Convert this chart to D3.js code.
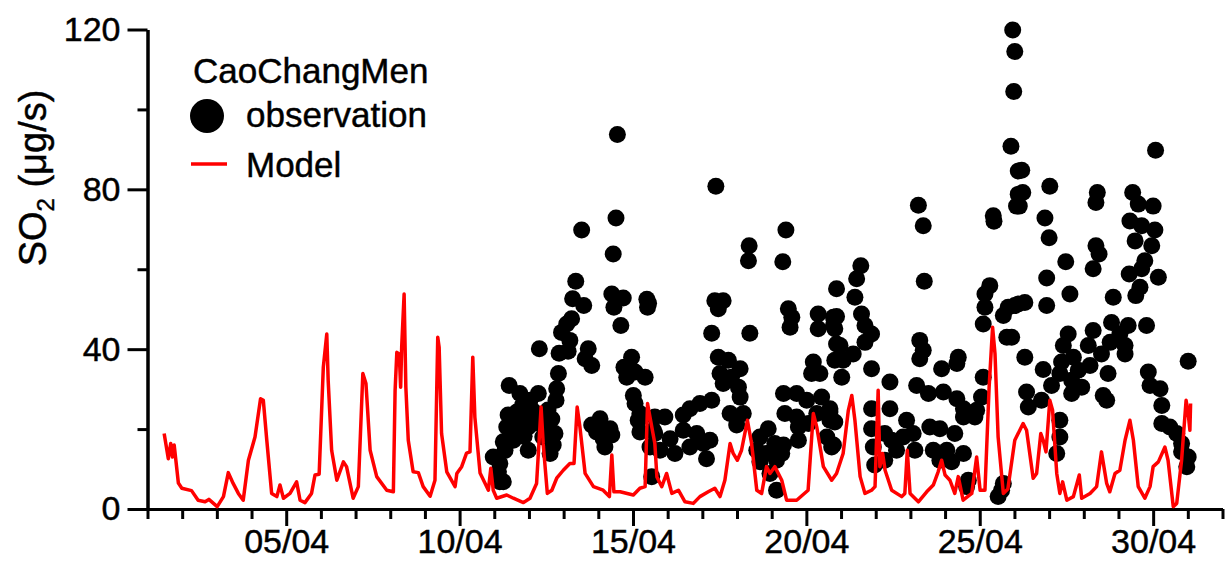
<!DOCTYPE html>
<html>
<head>
<meta charset="utf-8">
<script src="https://cdn.jsdelivr.net/npm/d3@7"></script>
<style>
  body { margin: 0; background: #fff; }
  text { font-family: "Liberation Sans", Arial, sans-serif; fill: #000; stroke: #000; stroke-width: 0.45px; }
</style>
</head>
<body>
<svg id="chart"></svg>
<script>
// model run, [day of April, SO2]
const model = [
  [1.48,18.9],[1.60,12.6],[1.67,16.4],[1.72,13],[1.77,16],[1.89,6.5],[1.99,5.2],[2.27,4.6],[2.46,2.2],[2.66,1.8],
  [2.77,2.4],[3.01,0.6],[3.19,3.1],[3.33,9.1],[3.47,6.4],[3.62,3.9],[3.76,2.2],[3.91,12.2],[4.10,18],[4.26,27.6],
  [4.34,27.2],[4.44,17.2],[4.58,3.9],[4.73,3.1],[4.82,6],[4.92,2.7],[5.11,3.9],[5.30,6.8],[5.40,2.2],[5.54,1.6],
  [5.73,3.9],[5.83,8.5],[5.95,8.7],[6.07,35.5],[6.17,43.8],[6.21,32.2],[6.31,14.7],[6.46,7.2],[6.65,11.8],[6.74,10.6],
  [6.93,2.7],[7.08,5.6],[7.21,33.9],[7.30,31.4],[7.42,14.7],[7.61,8.1],[7.90,4.7],[8.09,4.3],[8.14,29.7],[8.19,39.2],
  [8.26,38.8],[8.30,30.5],[8.33,40.5],[8.40,53.8],[8.45,30.5],[8.52,17.2],[8.66,9.3],[8.81,9.1],[8.95,5.6],[9.15,3.2],
  [9.29,7.2],[9.37,43],[9.41,40.5],[9.48,18.9],[9.63,9.3],[9.87,5.6],[9.92,8.9],[10.06,10.6],[10.20,14],[10.30,14.3],
  [10.38,38],[10.44,23],[10.59,9],[10.73,6.5],[10.83,4.7],[10.90,10.2],[10.97,4.7],[11.07,2.7],[11.36,3.5],[11.55,2.7],
  [11.84,1.6],[12.03,2.7],[12.22,6.4],[12.35,25.5],[12.41,16.4],[12.53,3.9],[12.66,4.7],[12.80,7.7],[12.99,9.7],[13.18,11.4],
  [13.30,11.4],[13.39,25.5],[13.47,20.5],[13.62,8.9],[13.86,5.6],[14.14,4.7],[14.32,3.1],[14.39,13.5],[14.45,4.3],[14.63,4.3],
  [15.01,3.5],[15.20,5.2],[15.35,5.6],[15.42,26.4],[15.49,23],[15.63,16.4],[15.69,8],[15.83,5.6],[15.97,8.9],[16.12,3.9],
  [16.31,4.7],[16.50,1.8],[16.74,1.4],[16.93,3.1],[17.17,4.3],[17.36,5.2],[17.51,3.1],[17.65,7.2],[17.80,16.4],[17.89,13.9],
  [18.01,12.2],[18.13,14.7],[18.30,22.2],[18.42,16.4],[18.57,4.7],[18.71,3.9],[18.85,10.6],[18.95,8.9],[19.09,10.6],[19.29,7.2],
  [19.43,2.2],[19.72,2.2],[20.05,4.7],[20.20,23.9],[20.30,20.5],[20.49,10.6],[20.73,7.2],[20.87,8.9],[21.06,13.9],[21.21,24.7],
  [21.31,28.4],[21.40,22.2],[21.55,8.1],[21.69,3.9],[21.88,4.7],[21.98,5.6],[22.07,29.7],[22.12,10.6],[22.20,13.9],[22.27,9.7],
  [22.46,4.7],[22.75,3.1],[22.84,3.9],[22.91,14.7],[22.99,3.9],[23.23,1.8],[23.47,4.3],[23.66,6],[23.80,9.3],[23.90,12.2],
  [24.00,8.5],[24.14,7.2],[24.28,3.9],[24.38,8.1],[24.52,2.2],[24.77,3.9],[24.91,13],[25.01,4.7],[25.15,4.7],[25.27,30.5],
  [25.37,45.5],[25.44,38.8],[25.53,18],[25.68,3.9],[25.81,5],[26.01,17.2],[26.25,21.4],[26.35,19.7],[26.54,7.7],[26.64,8.9],
  [26.76,18.9],[26.83,17.2],[26.91,14.3],[27.02,27.2],[27.10,24.7],[27.22,8.9],[27.31,3.9],[27.39,6.8],[27.51,2.2],[27.70,3.1],
  [27.87,8.5],[27.94,2.7],[28.18,3.9],[28.37,5.6],[28.51,14.3],[28.66,6.4],[28.75,4.3],[28.90,8.9],[29.04,9.7],[29.19,17.2],
  [29.33,22.2],[29.43,17.2],[29.57,5.6],[29.76,2.7],[29.91,5.6],[30.00,10.6],[30.15,11.8],[30.34,15.5],[30.43,12.2],[30.58,0.6],
  [30.68,1.4],[30.82,12.2],[30.95,27.2],[31.01,23.9],[31.06,19.7],[31.08,26.4]
];

// station observations, [day of April, SO2]
const observation = [
  [14.55,93.7],[14.51,72.8],[13.52,69.8],[14.43,63.8],[13.35,57],[13.26,52.6],[13.58,50.9],[14.39,53.8],[14.72,52.8],[14.45,50.5],
  [15.42,50.5],[15.45,51.5],[15.40,52.5],[14.65,45.9],[13.23,47.6],[13.09,46.3],[12.94,44.2],[13.18,42.2],[12.87,39],[13.13,39.5],
  [12.30,40.1],[13.71,40.1],[13.62,37.6],[13.81,35.9],[12.85,33.9],[14.96,38],[14.74,35.5],[14.82,33],[15.35,33],[15.06,34.3],
  [11.43,30.9],[11.74,28.9],[12.80,30.1],[12.27,28.9],[12.78,27.2],[12.03,27.2],[15.01,28.4],[15.06,26.4],[15.20,23.9],[11.40,23.5],
  [11.65,24.3],[11.89,23],[12.46,22.2],[14.05,22.6],[13.81,21],[14.34,20.1],[15.15,22.2],[15.63,23],[11.36,20.5],[11.69,19.7],
  [11.98,20.5],[12.61,19.7],[12.75,18.9],[13.95,19.3],[14.14,17.6],[14.39,18.5],[15.20,19.3],[15.59,19.7],[11.26,16.8],[11.55,17.2],
  [11.98,14.7],[12.70,16],[12.61,13.9],[14.19,15.5],[15.49,15.5],[11.31,14.7],[10.97,13],[11.16,11.4],[11.12,9.3],[11.26,6.8],
  [11.16,6.8],[15.54,8.1],[11.82,26],[12.12,24.5],[12.40,18],[11.50,21.5],[12.55,24.8],[12.18,21.5],[11.86,18.2],[12.66,22.5],
  [17.39,80.8],[18.35,65.9],[18.33,62.1],[19.41,69.8],[19.32,61.9],[20.87,55.1],[17.36,52.1],[17.60,52.1],[17.46,50.1],[17.27,44],
  [18.37,44],[19.48,50.1],[19.58,48],[19.53,45.5],[20.34,48.8],[20.34,45.1],[20.78,48],[20.78,45.9],[20.87,41.3],[17.46,38],
  [17.75,37.2],[17.51,33.9],[18.09,35.1],[17.60,31.4],[17.84,33],[18.09,28],[18.04,30.5],[20.20,36.8],[20.15,33.9],[20.39,33.9],
  [20.82,37.2],[17.27,27.2],[16.93,26.4],[16.64,25.1],[17.80,23.9],[18.18,23.9],[17.99,21],[16.45,23.5],[15.92,23],[19.34,28.9],
  [19.72,28.9],[20.01,27.2],[20.44,28],[20.68,25.1],[19.38,23.9],[19.72,23],[20.30,23.9],[19.77,20.5],[20.06,21.4],[20.68,22.2],
  [19.77,17.2],[20.59,18],[20.73,15.5],[15.63,18.9],[16.07,17.6],[16.45,19.7],[16.84,18.9],[17.22,17.2],[15.78,14.7],[16.21,13.9],
  [16.64,15.5],[17.12,12.6],[17.03,16.4],[18.90,20.1],[18.66,18],[19.09,16.4],[19.34,16],[18.57,14.7],[18.85,13.9],[18.66,11.8],
  [19.14,12.2],[18.95,8.9],[19.29,13.9],[19.14,4.7],
  [25.95,119.9],[26.01,114.5],[25.98,104.5],[25.90,90.8],[26.11,84.6],[26.11,78.8],[26.06,75.8],[25.39,73.4],[25.41,72],[23.23,76],
  [23.37,70.9],[23.40,57],[21.57,60.9],[21.45,57.6],[21.40,53],[21.59,48.8],[20.87,48.2],[21.69,45.9],[21.88,43.8],[20.82,45.1],
  [21.69,41.7],[20.97,40.9],[21.35,38.8],[21.06,37.2],[21.88,35.1],[21.02,33],[22.41,31.8],[20.68,24.3],[20.82,21.8],[20.78,16],
  [21.88,25.1],[22.41,25.1],[21.88,20.1],[21.93,15.5],[21.97,11],[22.26,18.9],[22.46,17.2],[22.60,14.7],[22.26,12.2],[22.79,18],
  [22.89,22.2],[23.08,18.9],[23.13,14.7],[23.27,42.2],[23.37,39.7],[23.27,37.6],[23.90,35.1],[24.38,38],[24.34,36.4],[23.18,30.9],
  [23.52,28.9],[23.95,29.3],[24.34,27.6],[24.53,25.1],[24.53,23],[23.56,20.5],[23.85,20.1],[24.28,18.9],[23.66,14.7],[24.05,14.7],
  [24.53,13.9],[23.85,12.2],[24.19,11.8],[24.67,7.2],[24.62,5.6],[25.10,33],[25.05,28],[24.91,24.7],[24.86,23],[25.15,53.8],
  [25.29,55.9],[25.15,50.5],[25.10,46.3],[25.82,50.5],[25.68,48.4],[25.78,43],[26.11,51.3],[25.63,4.7],[25.53,3.1],[25.68,6.4],
  [30.07,89.8],[26.21,84.8],[26.24,79.2],[26.14,75.8],[27.02,80.8],[28.39,79.2],[28.35,76.7],[29.41,79.2],[29.57,76.3],[30.00,75.8],
  [26.88,72.8],[27.00,67.9],[29.33,72.1],[29.67,70.9],[30.05,69.8],[29.48,67.1],[29.96,65.9],[28.35,65.9],[28.44,63.8],[27.48,61.9],
  [29.76,62.1],[28.27,60.1],[29.67,60.1],[29.31,58.8],[30.15,58],[26.93,57.8],[29.62,55.5],[29.50,53.4],[27.60,53.8],[28.85,53],
  [26.30,51.7],[26.93,50.9],[26.01,50.9],[28.80,46.7],[29.81,45.9],[29.28,45.9],[28.27,44.7],[27.55,43.8],[29.04,43.8],[25.92,43],
  [27.41,40.9],[28.13,40.9],[28.76,41.7],[29.19,40.9],[28.51,38.8],[29.19,38.8],[26.30,38],[27.70,38],[31.01,37],[27.36,36.8],
  [28.18,35.9],[26.83,34.9],[27.84,34.7],[28.70,33.9],[29.86,34.3],[27.31,33.9],[27.07,30.9],[27.65,32.2],[27.94,30.5],[29.91,30.9],
  [30.20,30.1],[26.35,29.3],[27.65,28.9],[28.56,28.4],[28.66,27.2],[26.78,27.2],[26.40,25.5],[30.25,25.9],[27.31,22.2],[30.25,21.4],
  [30.48,20.5],[30.68,18.9],[27.31,18],[30.82,16.4],[27.22,13.9],[31.01,13],[30.97,10.6],[30.82,14.3]
];

const yTicks = [0, 40, 80, 120];
const yMinorTicks = [20, 60, 100];
const xMajorDays = [5, 10, 15, 20, 25, 30];
const xTickLabels = ["05/04", "10/04", "15/04", "20/04", "25/04", "30/04"];
const xMinorDays = d3.range(1, 33).filter(d => !xMajorDays.includes(d));
const legendTitle = "CaoChangMen";
const seriesNames = ["observation", "Model"];

const width = 1231, height = 585;
const margin = {top: 29.5, right: 8.5, bottom: 76, left: 147.5};
const innerW = width - margin.left - margin.right;
const innerH = height - margin.top - margin.bottom;

const svg = d3.select('#chart')
    .attr('width', width)
    .attr('height', height);

const chart = svg.append('g')
    .attr('transform', `translate(${margin.left},${margin.top})`);

const x = d3.scaleLinear().domain([1, 32]).range([0, innerW]);
const y = d3.scaleLinear().domain([0, 120]).range([innerH, 0]);

// axes
function styleAxis(g) {
  g.selectAll('.domain').attr('stroke', '#000').attr('stroke-width', 3);
  g.selectAll('.tick line').attr('stroke', '#000').attr('stroke-width', 3);
  g.selectAll('.tick text').style('font-size', '34px').style('font-family', '"Liberation Sans", Arial, sans-serif').attr('fill', '#000');
}

chart.append('g')
    .attr('transform', `translate(0,${innerH})`)
    .call(d3.axisBottom(x).tickValues(xMinorDays).tickSize(10).tickSizeOuter(0).tickFormat(''))
    .call(styleAxis);

chart.append('g')
    .attr('transform', `translate(0,${innerH})`)
    .call(d3.axisBottom(x).tickValues(xMajorDays).tickSize(17).tickSizeOuter(0).tickPadding(3)
      .tickFormat((d, i) => xTickLabels[i]))
    .call(styleAxis);

chart.append('g')
    .call(d3.axisLeft(y).tickValues(yMinorTicks).tickSize(10).tickSizeOuter(0).tickFormat(''))
    .call(styleAxis);

chart.append('g')
    .call(d3.axisLeft(y).tickValues(yTicks).tickSize(20).tickSizeOuter(0).tickPadding(7))
    .call(styleAxis);

// observations
chart.append('g')
  .selectAll('circle')
  .data(observation)
  .join('circle')
    .attr('cx', d => x(d[0]))
    .attr('cy', d => y(d[1]))
    .attr('r', 8.5)
    .attr('fill', '#000');

// model line on top
chart.append('path')
    .datum(model)
    .attr('fill', 'none')
    .attr('stroke', '#ff0000')
    .attr('stroke-width', 3.5)
    .attr('stroke-linejoin', 'round')
    .attr('d', d3.line().x(d => x(d[0])).y(d => y(d[1])));

// y title
const yTitle = svg.append('text')
    .attr('transform', 'translate(46,178) rotate(-90)')
    .attr('text-anchor', 'middle')
    .style('font-size', '38px');
yTitle.append('tspan').text('SO');
yTitle.append('tspan').attr('dy', 8).style('font-size', '24px').text('2');
yTitle.append('tspan').attr('dy', -8).text(' (\u03bcg/s)');

// legend
const legend = svg.append('g');
legend.append('text').attr('x', 193).attr('y', 83).style('font-size', '35px').text(legendTitle);
legend.append('circle').attr('cx', 207).attr('cy', 116).attr('r', 17).attr('fill', '#000');
legend.append('text').attr('x', 246).attr('y', 127).style('font-size', '35px').text(seriesNames[0]);
legend.append('line').attr('x1', 191).attr('x2', 227).attr('y1', 164).attr('y2', 164)
    .attr('stroke', '#ff0000').attr('stroke-width', 3.5);
legend.append('text').attr('x', 246).attr('y', 177).style('font-size', '35px').text(seriesNames[1]);
</script>
</body>
</html>
